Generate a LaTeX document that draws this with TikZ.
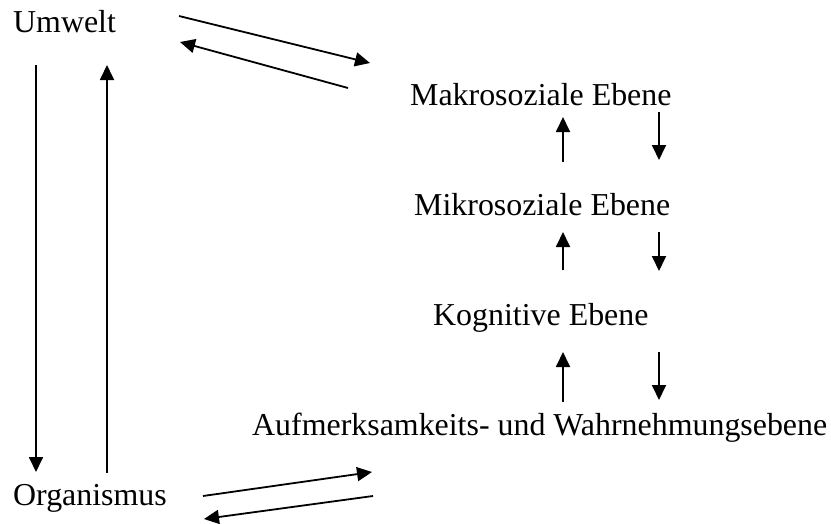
\documentclass[tikz,border=0pt]{standalone}
\usepackage{fontspec}
\setmainfont{Liberation Serif}
\usetikzlibrary{arrows.meta}
\begin{document}
\begin{tikzpicture}[x=1pt,y=-1pt,
  lbl/.style={anchor=base west,inner sep=0pt,font=\fontsize{31.9}{36}\selectfont},
  arr/.style={line width=1.8pt,-{Triangle[width=14pt,length=15pt]}}]
\useasboundingbox (0,0) rectangle (831,523);
\node[lbl] (umwelt) at (13,32) {Umwelt};
\node[lbl] (makro) at (410,105) {Makrosoziale Ebene};
\node[lbl] (mikro) at (414,215) {Mikrosoziale Ebene};
\node[lbl] (kogn) at (433,325) {Kognitive Ebene};
\node[lbl] (aufm) at (252,435) {Aufmerksamkeits- und Wahrnehmungsebene};
\node[lbl] (org) at (13,505) {Organismus};
% Umwelt <-> Makro
\coordinate (u1) at (179,16); \coordinate (m1) at (370,63);
\coordinate (m2) at (348,88); \coordinate (u2) at (180,42);
\draw[arr] (u1) -- (m1);
\draw[arr] (m2) -- (u2);
% Umwelt <-> Organismus
\coordinate (ud) at (36,65); \coordinate (od) at (36,472);
\coordinate (ou) at (107,473); \coordinate (uu) at (107,65);
\draw[arr] (ud) -- (od);
\draw[arr] (ou) -- (uu);
% Organismus <-> Aufmerksamkeit
\coordinate (o1) at (203,496); \coordinate (a1) at (372,472);
\coordinate (a2) at (373,496); \coordinate (o2) at (204,519);
\draw[arr] (o1) -- (a1);
\draw[arr] (a2) -- (o2);
% levels
\coordinate (p1s) at (563,162); \coordinate (p1e) at (563,117);
\coordinate (q1s) at (659,112); \coordinate (q1e) at (659,160);
\coordinate (p2s) at (563,270); \coordinate (p2e) at (563,232);
\coordinate (q2s) at (659,232); \coordinate (q2e) at (659,271);
\coordinate (p3s) at (563,402); \coordinate (p3e) at (563,352);
\coordinate (q3s) at (659,352); \coordinate (q3e) at (659,400);
\draw[arr] (p1s) -- (p1e);
\draw[arr] (q1s) -- (q1e);
\draw[arr] (p2s) -- (p2e);
\draw[arr] (q2s) -- (q2e);
\draw[arr] (p3s) -- (p3e);
\draw[arr] (q3s) -- (q3e);
\end{tikzpicture}
\end{document}
